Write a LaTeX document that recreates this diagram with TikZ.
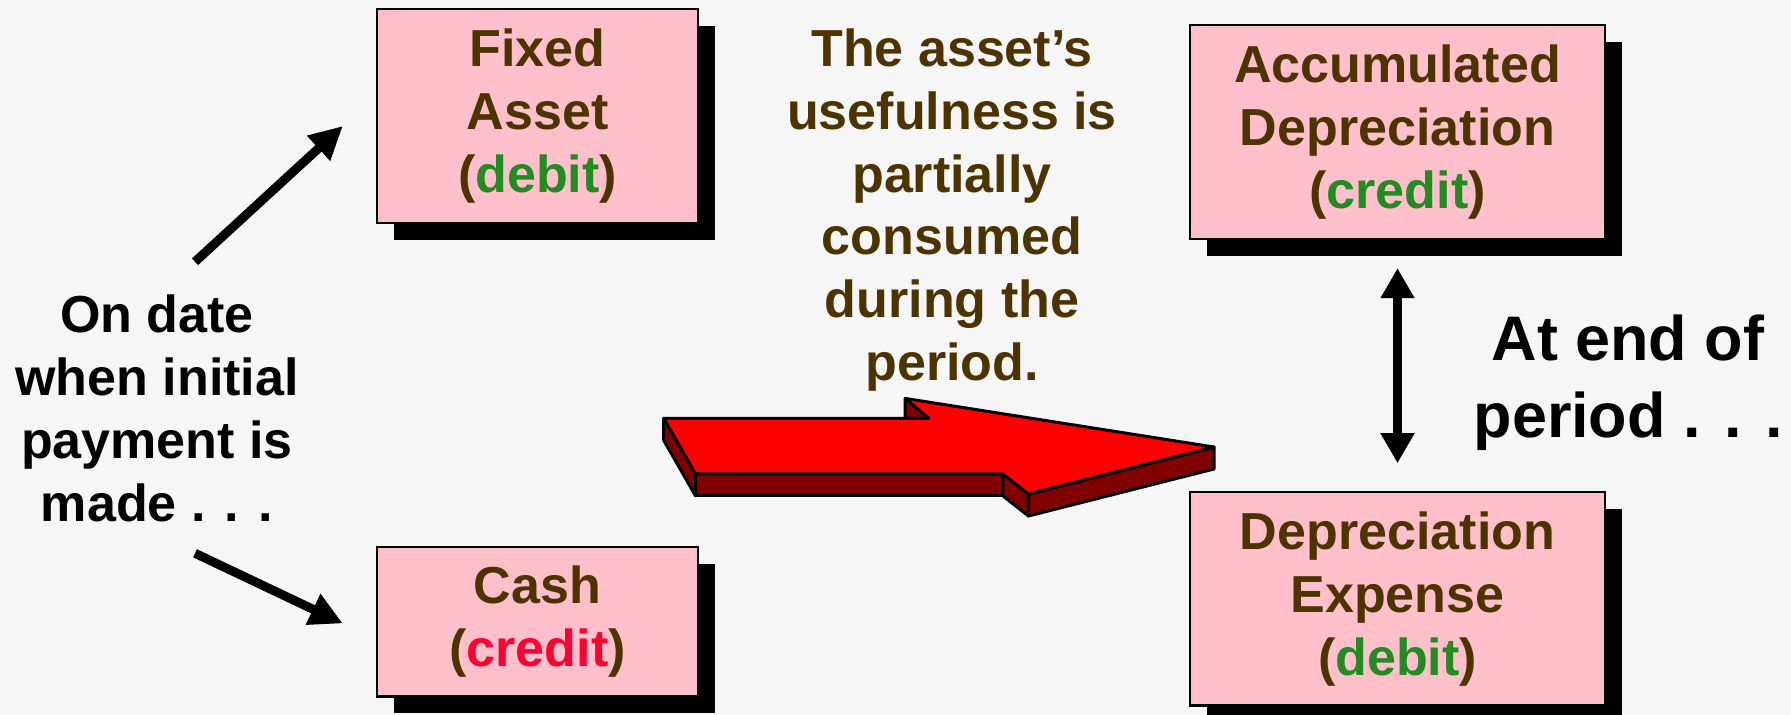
\documentclass[tikz,border=0pt]{standalone}
\usepackage{fontspec}
\setmainfont{Liberation Sans}
\usepackage{xcolor}
\definecolor{Paper}{HTML}{F6F6F6}
\definecolor{Pink}{HTML}{FFC0CB}
\definecolor{Brown}{HTML}{4D3300}
\definecolor{LeafGreen}{HTML}{228B22}
\definecolor{AlertRed}{HTML}{FF0033}
\definecolor{ArrowRed}{HTML}{FF0000}
\definecolor{ArrowDark}{HTML}{800000}
\usetikzlibrary{arrows.meta,positioning,shadows}

\begin{document}
\begin{tikzpicture}[
  x=0.01cm,y=-0.01cm,
  acct/.style={draw=black,line width=0.6pt,fill=Pink,align=center,text=Brown,inner sep=0pt,
    font=\bfseries\fontsize{14.8}{17.9}\selectfont,minimum width=3.21cm,minimum height=2.14cm,
    drop shadow={shadow xshift=0.17cm,shadow yshift=-0.17cm,fill=black,opacity=1}},
  wideacct/.style={acct,minimum width=4.15cm},
  note/.style={align=center,inner sep=0pt,font=\bfseries\fontsize{14.8}{17.9}\selectfont},
  bignote/.style={note,font=\bfseries\fontsize{17.9}{21.9}\selectfont},
  blackarrow/.style={-{Triangle[length=0.33cm,width=0.32cm]},line width=0.09cm},
  dblarrow/.style={{Triangle[length=0.3cm,width=0.32cm]}-{Triangle[length=0.3cm,width=0.32cm]},line width=0.09cm},
  face/.style={draw=black,line width=0.85pt,line join=round}
]
  \fill[Paper] (0,0) rectangle (1791,714);
  \useasboundingbox (0,0) rectangle (1791,714);

  \node[acct] (fixed) at (537.5,116) {Fixed\\Asset\\(\textcolor{LeafGreen}{debit})};
  \node[acct,minimum height=1.49cm,below=3.22cm of fixed] (cash) {Cash\\(\textcolor{AlertRed}{credit})};
  \node[wideacct] (accum) at (1397.5,132) {Accumulated\\Depreciation\\(\textcolor{LeafGreen}{credit})};
  \node[wideacct,minimum height=2.13cm,below=2.51cm of accum] (deprec) {Depreciation\\Expense\\(\textcolor{LeafGreen}{debit})};

  \node[note] (when) at (157,408) {On date\\when initial\\payment is\\made . . .};
  \node[note,text=Brown] (usage) at (952,210) {The asset’s\\usefulness is\\partially\\consumed\\during the\\period.};
  \node[bignote] (atend) at (1628,383) {At end of\\period . . .};

  \draw[blackarrow] ([xshift=0.38cm,yshift=0.32cm]when.north) -- ([xshift=-0.33cm,yshift=-0.1cm]fixed.west);
  \draw[blackarrow] ([xshift=0.38cm,yshift=-0.31cm]when.south) -- ([xshift=-0.33cm,yshift=-0.015cm]cash.west);
  \draw[dblarrow,shorten <=0.28cm,shorten >=0.28cm] (accum) -- (deprec);

  \filldraw[face,fill=ArrowDark] (663.7,418.3) -- (695.5,473.8) -- (695.5,495.8) -- (663.7,440.3) -- cycle;
  \filldraw[face,fill=ArrowDark] (695.5,473.8) -- (1002.8,473.8) -- (1002.8,495.8) -- (695.5,495.8) -- cycle;
  \filldraw[face,fill=ArrowDark] (1002.8,473.8) -- (1028.4,494) -- (1028.4,516) -- (1002.8,495.8) -- cycle;
  \filldraw[face,fill=ArrowDark] (1028.4,494) -- (1214,447) -- (1214,469) -- (1028.4,516) -- cycle;
  \filldraw[face,fill=ArrowDark] (905.2,398.4) -- (905.2,418.3) -- (928.9,418.3) -- cycle;
  \filldraw[face,fill=ArrowRed] (663.7,418.3) -- (928.9,418.3) -- (905.2,398.4) -- (1214,447)
    -- (1028.4,494) -- (1002.8,473.8) -- (695.5,473.8) -- cycle;
\end{tikzpicture}
\end{document}
